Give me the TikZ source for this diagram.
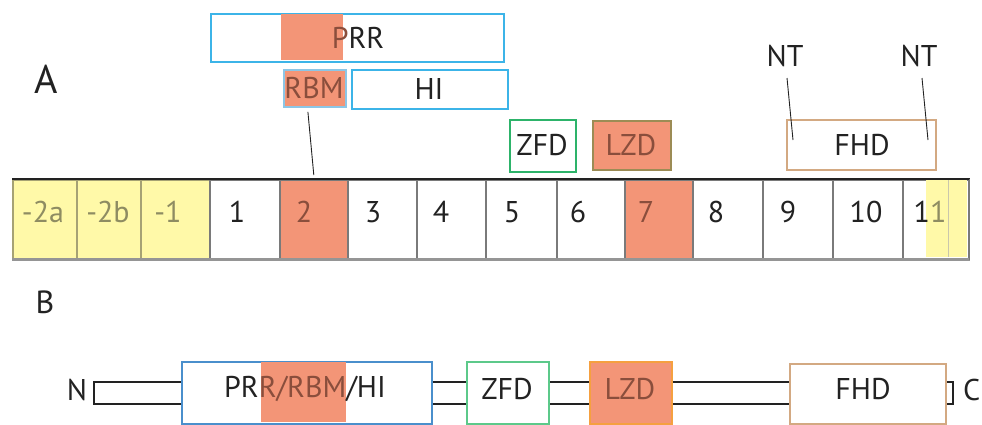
\documentclass[tikz,border=0pt]{standalone}
\usepackage{fontspec}
\setmainfont{PT Sans}
\usetikzlibrary{calc}
\definecolor{salmon}{HTML}{F39577}
\definecolor{exyel}{HTML}{FFF9A8}
\definecolor{skyb}{HTML}{3CB4E8}
\definecolor{paleb}{HTML}{8CC6E6}
\definecolor{midb}{HTML}{4A8FCC}
\definecolor{zgreen}{HTML}{2DB36A}
\definecolor{lgreen}{HTML}{5CC98A}
\definecolor{olivebd}{HTML}{9C8C55}
\definecolor{lzorange}{HTML}{F5A040}
\definecolor{tanbd}{HTML}{D3A982}
\definecolor{brtext}{HTML}{8A4E3C}
\definecolor{yltext}{HTML}{8E8C62}
\definecolor{cellline}{HTML}{7A7A7A}
\definecolor{yelline}{HTML}{A6A274}
\definecolor{ink}{HTML}{222222}
\begin{document}
\begin{tikzpicture}[x=1pt,y=-1pt,
  every node/.style={font=\fontsize{30}{32}\selectfont, inner sep=0pt, text=ink},
  dom/.style={draw, line width=1.8pt, fill=white, inner sep=0pt, anchor=north west},
  cellbox/.style={draw=cellline, line width=1.6pt, inner sep=0pt, anchor=north west, minimum height=79},
  yelcell/.style={cellbox, fill=exyel, draw=yelline},
  conn/.style={draw=ink, line width=0.9pt}]
\useasboundingbox (0,0) rectangle (982,424);

% ---------- Part A ----------
\node[font=\fontsize{40}{42}\selectfont] (labA) at (46,79) {A};

% PRR box
\node[dom, draw=skyb, minimum width=293, minimum height=48] (prr) at (210,13) {};
\fill[salmon] (281,14) rectangle (343,60);
\node (prrtxt) at (358,38) {\textcolor{brtext}{P}RR};

% RBM and HI
\node[dom, draw=paleb, fill=salmon, minimum width=62, minimum height=37] (rbm) at (283,69) {};
\node (rbmtxt) at (314,88) {\textcolor{brtext}{RBM}};
\node[dom, draw=skyb, minimum width=156, minimum height=39] (hi) at (351,69) {};
\node (hitxt) at (429,89) {HI};

% ZFD, LZD, FHD
\node[dom, draw=zgreen, minimum width=66, minimum height=52] (zfd) at (509,119) {};
\node (zfdtxt) at (542,145) {ZFD};
\node[dom, draw=olivebd, fill=salmon, minimum width=78, minimum height=49] (lzd) at (592,120) {};
\node (lzdtxt) at (631,145) {\textcolor{brtext}{LZD}};
\node[dom, draw=tanbd, minimum width=149, minimum height=50] (fhd) at (786,119) {};
\node (fhdtxt) at (862,145) {FHD};

% NT labels
\node (nt1) at (785,56) {NT};
\node (nt2) at (919,56) {NT};
\coordinate (nt1end) at (793,140);
\coordinate (nt2end) at (928,140);
\draw[conn] (787,78) coordinate (nt1start) -- (nt1end);
\draw[conn] (922,78) coordinate (nt2start) -- (nt2end);

% exon bar
\node[yelcell, minimum width=64] (ea) at (12,179) {};
\node[yelcell, minimum width=64] (eb) at (76,179) {};
\node[yelcell, minimum width=69] (ec) at (140,179) {};
\node[cellbox, minimum width=70] (e1) at (209,179) {};
\node[cellbox, fill=salmon, minimum width=68] (e2) at (279,179) {};
\node[cellbox, minimum width=69] (e3) at (347,179) {};
\node[cellbox, minimum width=69] (e4) at (416,179) {};
\node[cellbox, minimum width=71] (e5) at (485,179) {};
\node[cellbox, minimum width=68] (e6) at (556,179) {};
\node[cellbox, fill=salmon, minimum width=68] (e7) at (624,179) {};
\node[cellbox, minimum width=70] (e8) at (692,179) {};
\node[cellbox, minimum width=70] (e9) at (762,179) {};
\node[cellbox, minimum width=70] (e10) at (832,179) {};
\node[cellbox, minimum width=66] (e11) at (902,179) {};
\fill[exyel] (926,180) rectangle (967,257);
\draw[yelline!60, line width=0.8pt] (948,180) -- (948,257);
\draw[draw=ink, line width=1.4pt] (ea.north west) -- (e11.north east);
\draw[draw=cellline!80, line width=2.4pt] (ea.south west) -- (e11.south east);
\draw[draw=cellline, line width=1.6pt] (e11.north east) -- (e11.south east);

\node (ta) at (43,212) {\textcolor{yltext}{-2a}};
\node (tb) at (108,212) {\textcolor{yltext}{-2b}};
\node (tc) at (168,212) {\textcolor{yltext}{-1}};
\node (t1) at (237,212) {1};
\node (t2) at (304,212) {\textcolor{brtext}{2}};
\node (t3) at (373,212) {3};
\node (t4) at (441,212) {4};
\node (t5) at (512,212) {5};
\node (t6) at (578,212) {6};
\node (t7) at (646,212) {\textcolor{brtext}{7}};
\node (t8) at (716,212) {8};
\node (t9) at (788,212) {9};
\node (t10) at (866,212) {10};
\node (t11) at (930,212) {1\textcolor{yltext}{1}};

% RBM to exon 2 connector
\draw[conn] ([xshift=-7pt,yshift=-4pt]rbm.south) -- ([yshift=4pt]e2.north);

% ---------- Part B ----------
\node[font=\fontsize{32}{34}\selectfont] (labB) at (45,302) {B};
\node (nlab) at (77,390) {N};
\node[anchor=west] (clab) at (963,390) {C};

\draw[draw=ink, line width=1.3pt] (94,382) rectangle (953,404);

\node[dom, draw=midb, minimum width=250, minimum height=62] (bprr) at (181,361) {};
\fill[salmon] (261,362) rectangle (346,422);
\node (bprrtxt) at (305,389) {PR\textcolor{brtext}{R/RBM}/HI};

\node[dom, draw=lgreen, minimum width=82, minimum height=62] (bzfd) at (466,361) {};
\node (bzfdtxt) at (507,389) {ZFD};
\node[dom, draw=lzorange, fill=salmon, minimum width=82, minimum height=62] (blzd) at (589,361) {};
\node (blzdtxt) at (630,389) {\textcolor{brtext}{LZD}};
\node[dom, draw=tanbd, minimum width=156, minimum height=60] (bfhd) at (789,363) {};
\node (bfhdtxt) at (863,389) {FHD};
\end{tikzpicture}
\end{document}
